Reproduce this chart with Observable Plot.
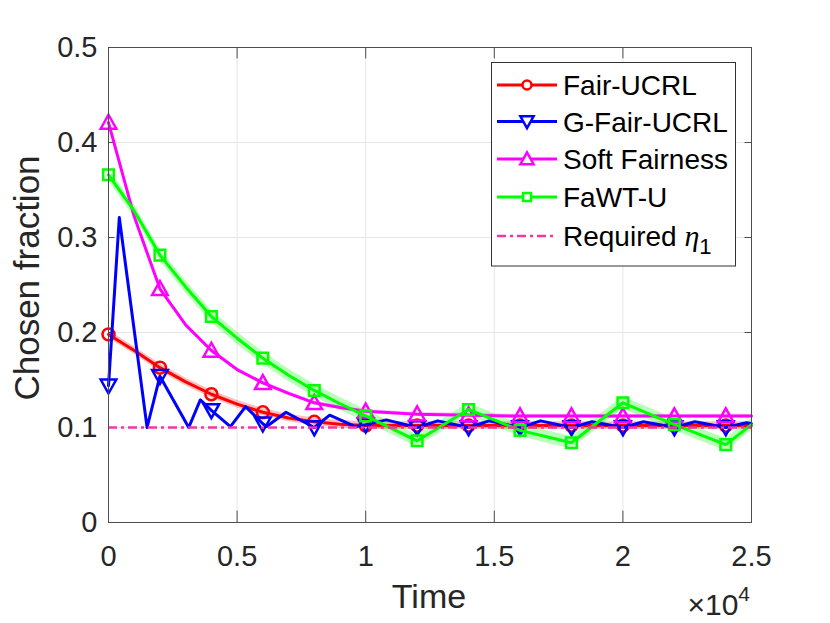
<!DOCTYPE html>
<html>
<head>
<meta charset="utf-8">
<script src="https://cdn.jsdelivr.net/npm/d3@7"></script>
<script src="https://cdn.jsdelivr.net/npm/@observablehq/plot@0.6"></script>
<style>
  html, body { margin: 0; padding: 0; background: #fff; }
  #chart { position: relative; width: 830px; height: 623px; }
  svg { overflow: visible; }
</style>
</head>
<body>
<div id="chart"></div>
<script>
// ---- Data (time in units of 10^4) ----
const smoothTime   = [0, 0.1, 0.2, 0.3, 0.4, 0.5, 0.6, 0.7, 0.8, 0.9, 1.0, 1.2, 1.4, 1.6, 1.8, 2.0, 2.2, 2.4, 2.5];
const fairUCRL     = [0.198, 0.181, 0.163, 0.148, 0.135, 0.1246, 0.116, 0.110, 0.106, 0.1035, 0.102, 0.102, 0.102, 0.102, 0.102, 0.102, 0.102, 0.102, 0.102];
const softFairness = [0.421, 0.322, 0.246, 0.208, 0.181, 0.161, 0.147, 0.136, 0.126, 0.121, 0.117, 0.114, 0.113, 0.112, 0.112, 0.112, 0.112, 0.112, 0.112];
const fawtU        = [0.366, 0.328, 0.2815, 0.248, 0.2168, 0.194, 0.173, 0.155, 0.139, 0.125, 0.1123, 0.086, 0.119, 0.097, 0.084, 0.126, 0.103, 0.082, 0.103];

const gFairTime  = [0, 0.042, 0.150, 0.2, 0.312, 0.357, 0.4, 0.474, 0.533, 0.6, 0.615, 0.69, 0.8, 0.86, 0.96, 1.0, 1.08, 1.2, 1.28, 1.4, 1.48, 1.6, 1.68, 1.8, 1.88, 2.0, 2.08, 2.2, 2.28, 2.4, 2.48, 2.5];
const gFairUCRL  = [0.144, 0.321, 0.100, 0.154, 0.100, 0.129, 0.118, 0.101, 0.122, 0.104, 0.101, 0.116, 0.100, 0.113, 0.101, 0.103, 0.108, 0.100, 0.107, 0.100, 0.107, 0.100, 0.107, 0.100, 0.106, 0.100, 0.106, 0.100, 0.106, 0.100, 0.105, 0.104];

const requiredEta = 0.1;
const redBand = 0.004;
const greenBand = 0.0065;
const magentaBand = 0.002;

const xTicks = [0, 0.5, 1, 1.5, 2, 2.5];
const yTicks = [0, 0.1, 0.2, 0.3, 0.4, 0.5];
const seriesNames = ["Fair-UCRL", "G-Fair-UCRL", "Soft Fairness", "FaWT-U", "Required"];

// ---- Build tables ----
const toRows = (ts, vs) => ts.map((t, i) => ({t, v: vs[i]}));
const redRows = toRows(smoothTime, fairUCRL);
const magRows = toRows(smoothTime, softFairness);
const grnRows = toRows(smoothTime, fawtU);
const bluRows = toRows(gFairTime, gFairUCRL);
const isMarker = d => Math.abs(d.t * 5 - Math.round(d.t * 5)) < 1e-9 && d.t <= 2.4 + 1e-9;

const C = {red: "#ff0000", blue: "#0000ff", magenta: "#ff00ff", green: "#00ff00", eta: "#f535a6"};

// custom triangle symbols
const triUp = {draw(ctx, size) { const r = Math.sqrt(size / Math.PI);
  ctx.moveTo(0, -1.2 * r); ctx.lineTo(1.2 * r, 0.95 * r); ctx.lineTo(-1.2 * r, 0.95 * r); ctx.closePath(); }};
const triDown = {draw(ctx, size) { const r = Math.sqrt(size / Math.PI);
  ctx.moveTo(0, 1.2 * r); ctx.lineTo(1.2 * r, -0.95 * r); ctx.lineTo(-1.2 * r, -0.95 * r); ctx.closePath(); }};

const FONT = "'Liberation Sans', Arial, Helvetica, sans-serif";

const chart = Plot.plot({
  width: 830,
  height: 623,
  marginLeft: 108,
  marginRight: 79,
  marginTop: 47,
  marginBottom: 101,
  style: {fontFamily: FONT, fontSize: "29px", color: "#262626", background: "transparent"},
  x: {domain: [0, 2.5], ticks: xTicks, tickSize: 0, tickPadding: 23, tickFormat: d => String(d), label: null},
  y: {domain: [0, 0.5], ticks: yTicks, tickSize: 0, tickPadding: 11, tickFormat: d => String(d), label: null},
  marks: [
    Plot.ruleX(xTicks.slice(1, -1), {stroke: "#e6e6e6", strokeWidth: 1}),
    Plot.ruleY(yTicks.slice(1, -1), {stroke: "#e6e6e6", strokeWidth: 1}),
    // inward tick marks
    Plot.ruleX(xTicks, {y1: 0, y2: 0.012, stroke: "#4d4d4d"}),
    Plot.ruleX(xTicks, {y1: 0.488, y2: 0.5, stroke: "#4d4d4d"}),
    Plot.ruleY(yTicks, {x1: 0, x2: 0.025, stroke: "#4d4d4d"}),
    Plot.ruleY(yTicks, {x1: 2.475, x2: 2.5, stroke: "#4d4d4d"}),
    // bands
    Plot.areaY(redRows, {x: "t", y1: d => d.v - redBand, y2: d => d.v + redBand, fill: C.red, fillOpacity: 0.25}),
    Plot.areaY(magRows, {x: "t", y1: d => d.v - magentaBand, y2: d => d.v + magentaBand, fill: C.magenta, fillOpacity: 0.2}),
    Plot.areaY(grnRows, {x: "t", y1: d => d.v - greenBand, y2: d => d.v + greenBand, fill: C.green, fillOpacity: 0.28}),
    // lines
    Plot.line(redRows, {x: "t", y: "v", stroke: C.red, strokeWidth: 3}),
    Plot.dot(redRows.filter(isMarker), {x: "t", y: "v", r: 6, stroke: C.red, strokeWidth: 2.5, fill: "none"}),
    Plot.line(bluRows, {x: "t", y: "v", stroke: C.blue, strokeWidth: 3}),
    Plot.dot(bluRows.filter(isMarker), {x: "t", y: "v", r: 6.5, stroke: C.blue, strokeWidth: 2.5, fill: "none", symbol: triDown}),
    Plot.line(magRows, {x: "t", y: "v", stroke: C.magenta, strokeWidth: 3}),
    Plot.dot(magRows.filter(isMarker), {x: "t", y: "v", r: 6.5, stroke: C.magenta, strokeWidth: 2.5, fill: "none", symbol: triUp}),
    Plot.line(grnRows, {x: "t", y: "v", stroke: C.green, strokeWidth: 3}),
    Plot.dot(grnRows.filter(isMarker), {x: "t", y: "v", r: 6, stroke: C.green, strokeWidth: 2.5, fill: "none", symbol: "square"}),
    Plot.ruleY([requiredEta], {stroke: C.eta, strokeWidth: 2.5, strokeDasharray: "9,4,3,4"}),
    Plot.frame({stroke: "#4d4d4d", strokeWidth: 1})
  ]
});

document.getElementById("chart").appendChild(chart);

// ---- Texts and legend ----
const svg = d3.select(chart);
svg.append("text").attr("transform", "translate(39,278) rotate(-90)")
  .attr("text-anchor", "middle").attr("font-family", FONT).attr("font-size", 35).attr("fill", "#262626")
  .text("Chosen fraction");
svg.append("text").attr("x", 429).attr("y", 608).attr("text-anchor", "middle")
  .attr("font-family", FONT).attr("font-size", 34).attr("fill", "#262626").text("Time");
const mult = svg.append("text").attr("x", 750).attr("y", 615).attr("text-anchor", "end")
  .attr("font-family", FONT).attr("font-size", 30).attr("fill", "#262626");
mult.append("tspan").text("\u00d710");
mult.append("tspan").attr("font-size", 21).attr("dy", -14).text("4");

const lg = svg.append("g").attr("text-anchor", "start");
lg.append("rect").attr("x", 491.5).attr("y", 62.5).attr("width", 244).attr("height", 203.5)
  .attr("fill", "#fff").attr("stroke", "#333").attr("stroke-width", 1);
const legendColors = [C.red, C.blue, C.magenta, C.green, C.eta];
const legendSymbols = [d3.symbolCircle, triDown, triUp, d3.symbolSquare, null];
const legendSizes = [4.5, 5.5, 5.5, 4.5, 0];
const legendY = [85, 121.5, 159, 197, 236];
seriesNames.forEach((name, i) => {
  const y = legendY[i];
  const isEta = i === 4;
  lg.append("line").attr("x1", 497).attr("x2", 557).attr("y1", y).attr("y2", y)
    .attr("stroke", legendColors[i]).attr("stroke-width", isEta ? 2.5 : 3)
    .attr("stroke-dasharray", isEta ? "9,4,3,4" : null);
  if (legendSymbols[i]) {
    lg.append("path").attr("transform", `translate(527,${y})`)
      .attr("d", d3.symbol(legendSymbols[i], Math.PI * legendSizes[i] * legendSizes[i])())
      .attr("fill", "#fff").attr("stroke", legendColors[i]).attr("stroke-width", 2.5);
  }
  const t = lg.append("text").attr("x", 563).attr("y", y + 10).attr("text-anchor", "start")
    .attr("font-family", FONT).attr("font-size", 28).attr("fill", "#000");
  t.append("tspan").text(name + (isEta ? " " : ""));
  if (isEta) {
    t.append("tspan").attr("font-family", "'Liberation Serif', 'DejaVu Serif', serif")
      .attr("font-style", "italic").attr("font-size", 30).text("\u03b7");
    t.append("tspan").attr("font-size", 22).attr("dy", 8).text("1");
  }
});
</script>
</body>
</html>
